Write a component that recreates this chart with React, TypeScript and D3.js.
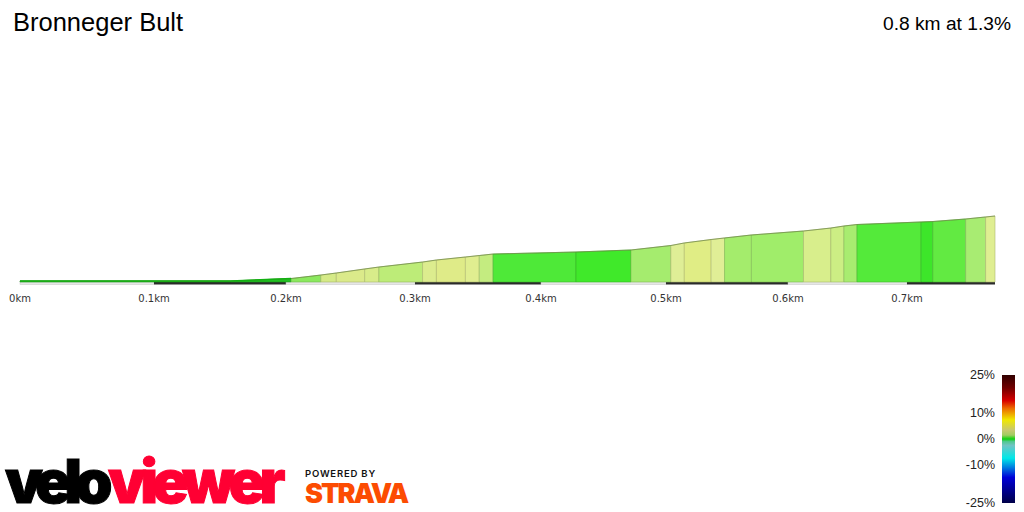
import React from 'react';
import * as d3 from 'd3';

const title = 'Bronneger Bult';
const summary = '0.8 km at 1.3%';

// profile: km along the climb, metres gained
const distances = [0, 0.158, 0.204, 0.227, 0.239, 0.261, 0.272, 0.306, 0.317, 0.34, 0.351, 0.362, 0.428, 0.472, 0.504, 0.515, 0.537, 0.548, 0.57, 0.613, 0.636, 0.647, 0.658, 0.712, 0.722, 0.75, 0.767, 0.775];
const elevations = [0, 0, 0.38, 0.92, 1.23, 1.85, 2.15, 2.92, 3.23, 3.69, 3.92, 4.15, 4.46, 4.77, 5.46, 5.85, 6.38, 6.62, 7.08, 7.69, 8.15, 8.46, 8.69, 9.08, 9.15, 9.54, 9.85, 10];
const segmentColors = ['#16b816', '#22c022', '#8be85e', '#d5ea87', '#dbea8a', '#d8ec8a', '#bdec78', '#dcec8e', '#dfeb88', '#e0ee90', '#c4ec80', '#4ee938', '#40e92a', '#a5ec6e', '#dfee96', '#e0ed85', '#e0ee96', '#a4ec6c', '#a0ed6a', '#d8ee8c', '#ccee84', '#a8ec70', '#54ea3a', '#3de62a', '#62ea42', '#a8ec72', '#dfee92'];

// the axis is not evenly spaced in the source, so the scale is piecewise
const tickKm = [0, 0.1, 0.2, 0.3, 0.4, 0.5, 0.6, 0.7];
const tickLabels = ['0km', '0.1km', '0.2km', '0.3km', '0.4km', '0.5km', '0.6km', '0.7km'];
const tickPixels = [20, 154, 286, 415, 541, 666, 788, 907];
const endKm = 0.775;

const legendGrades = [25, 10, 0, -10, -25];
const legendLabels = ['25%', '10%', '0%', '-10%', '-25%'];
const gradeStops = [25, 20, 15, 12, 7.5, 3.5, 1.5, 0, -1, -2.5, -7.5, -11, -15, -25];
const gradeColors = ['#300000', '#700000', '#d80000', '#ec6a00', '#f0e800', '#c8c870', '#a0cc60', '#10d010', '#50c890', '#70c4c4', '#00e8e8', '#0080e0', '#0000d8', '#000048'];

const x = d3.scaleLinear().domain([...tickKm, endKm]).range([...tickPixels, 995]);
const y = d3.scaleLinear().domain([0, 10]).range([281, 216]);
const baseY = 282;
const grade = d3.scaleLinear().domain([25, -25]).range([375, 503]);

const stripBreaks = [...tickKm, endKm];
const points = distances.map((d, i) => ({ d, e: elevations[i] }));

const area = d3
  .area<{ d: number; e: number }>()
  .x((p) => x(p.d))
  .y0(baseY)
  .y1((p) => y(p.e));

const topLine = d3
  .line<{ d: number; e: number }>()
  .x((p) => x(p.d))
  .y((p) => y(p.e));

const App: React.FC = () => {
  return (
    <svg width={1024} height={512} style={{ position: 'absolute', left: 0, top: 0, background: '#fff' }}>
      <defs>
        <linearGradient id="gradeRamp" x1="0" y1="0" x2="0" y2="1">
          {gradeStops.map((g, i) => (
            <stop key={g} offset={(grade(g) - grade(25)) / (grade(-25) - grade(25))} stopColor={gradeColors[i]} />
          ))}
        </linearGradient>
      </defs>

      <text x={13} y={31} fontFamily="Liberation Sans" fontSize={25.5} fill="#000">{title}</text>
      <text x={1011} y={29.5} textAnchor="end" fontFamily="Liberation Sans" fontSize={19.2} fill="#000">{summary}</text>

      {/* distance strip */}
      {stripBreaks.slice(0, -1).map((km, i) => (
        <rect
          key={km}
          x={x(km)}
          y={281}
          width={x(stripBreaks[i + 1]) - x(km)}
          height={3.5}
          fill={i % 2 ? '#2b2b2b' : '#e6e6e6'}
          stroke={i % 2 ? 'none' : '#c4c4c4'}
          strokeWidth={0.5}
        />
      ))}

      {/* gradient segments */}
      {segmentColors.map((c, i) => (
        <path
          key={i}
          d={area(points.slice(i, i + 2)) ?? ''}
          fill={c}
          stroke={d3.color(c)?.darker(0.7).formatHex()}
          strokeOpacity={0.75}
          strokeWidth={0.8}
        />
      ))}
      <path d={topLine(points) ?? ''} fill="none" stroke="#6f8a45" strokeWidth={0.9} strokeOpacity={0.8} />
      <path d={topLine(points.slice(0, 3)) ?? ''} fill="none" stroke="#12b012" strokeWidth={1.6} />

      {tickKm.map((km, i) => (
        <text key={km} x={x(km)} y={301.5} textAnchor="middle" fontFamily="DejaVu Sans" fontSize={10} fill="#333">
          {tickLabels[i]}
        </text>
      ))}

      {/* gradient legend */}
      <rect x={1002} y={grade(25)} width={13} height={grade(-25) - grade(25)} fill="url(#gradeRamp)" />
      {legendGrades.map((g, i) => (
        <text key={g} x={995} y={grade(g) + 4} textAnchor="end" fontFamily="Liberation Sans" fontSize={12.5} fill="#222">
          {legendLabels[i]}
        </text>
      ))}

      {/* logos */}
      <text x={5} y={503} fontFamily="Inter" fontWeight={900} fontSize={60} letterSpacing={-7} fill="#000" stroke="#000" strokeWidth={1}>velo</text>
      <text x={108} y={503} fontFamily="Inter" fontWeight={900} fontSize={60} letterSpacing={-5.7} fill="#ff0033" stroke="#ff0033" strokeWidth={1}>viewer</text>
      <text x={305} y={477} fontFamily="Inter" fontWeight={600} fontSize={9.5} letterSpacing={0.8} fill="#111">POWERED BY</text>
      <text x={305} y={503} fontFamily="Inter" fontWeight={900} fontSize={27} letterSpacing={-2} fill="#fc4c02">STRAVA</text>
    </svg>
  );
};

export default App;
